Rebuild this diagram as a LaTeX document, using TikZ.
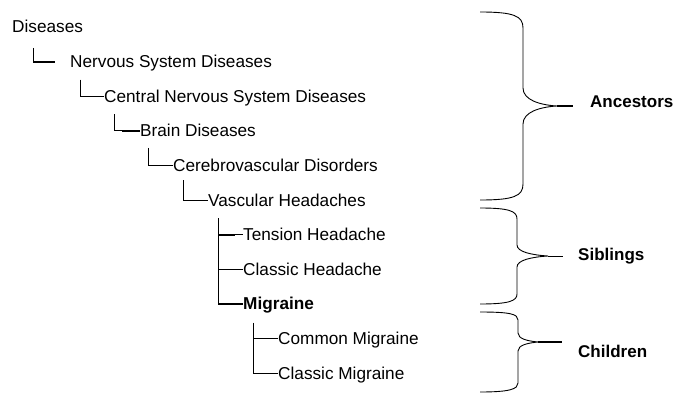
\documentclass[tikz,border=0pt]{standalone}
\usepackage{fontspec}
\setmainfont{Liberation Sans}
\usetikzlibrary{calc}

\tikzset{
    term/.style={anchor=base west, inner sep=0pt, text height=12pt, text depth=0pt,
                 font=\fontsize{17.2}{20}\selectfont},
    tag/.style={term, font=\fontsize{17}{20}\selectfont\bfseries},
    branch/.style={line width=1pt, black},
    twig/.style={line width=1.9pt, black},
    brace/.style={line width=0.9pt, black},
}

\begin{document}
\begin{tikzpicture}[x=1pt, y=-1pt]

                \useasboundingbox (0,0) rectangle (684,393);

                %----- TERMS OF THE TREE -----
                \node[term] (dis)    at (12,33)    {Diseases};
                \node[term] (nsd)    at (70,67.6)  {Nervous System Diseases};
                \node[term] (cnsd)   at (104,102.2) {Central Nervous System Diseases};
                \node[term] (brain)  at (140,136.8) {Brain Diseases};
                \node[term] (cereb)  at (173,171.4) {Cerebrovascular Disorders};
                \node[term] (vasc)   at (208,206)  {Vascular Headaches};
                \node[term] (tens)   at (243,240.6) {Tension Headache};
                \node[term] (clhead) at (243,275.2) {Classic Headache};
                \node[term, font=\fontsize{17.2}{20}\selectfont\bfseries]
                            (migr)   at (243,309.8) {Migraine};
                \node[term] (common) at (278,344.4) {Common Migraine};
                \node[term] (clmigr) at (278,379)  {Classic Migraine};

                %----- ELBOW CONNECTORS -----
                % the first one stops short of its child
                \coordinate (disroot) at ([xshift=21pt,yshift=-15pt]dis.base west);
                \draw[branch] (disroot) |- ([xshift=-15pt]nsd.west);
                \draw[twig] (nsd.west -| disroot) -- ([xshift=-15pt]nsd.west);

                \draw[branch] ([xshift=10pt,yshift=-12pt]nsd.base west) |- (cnsd.west);
                \draw[branch] ([xshift=10pt,yshift=-12pt]cnsd.base west) |- (brain.west);
                \draw[twig] ([xshift=-18pt]brain.west) -- (brain.west);
                \draw[branch] ([xshift=8pt,yshift=-11pt]brain.base west) |- (cereb.west);
                \draw[branch] ([xshift=10pt,yshift=-9pt]cereb.base west) |- (vasc.west);

                % siblings under the headaches
                \foreach \kid in {tens,clhead,migr}
                    \draw[branch] ([xshift=10pt,yshift=-12pt]vasc.base west) |- (\kid.west);
                \draw[twig] ([xshift=-25pt]tens.west) -- ([xshift=-8pt]tens.west);
                \draw[twig] ([xshift=-25pt]migr.west) -- (migr.west);

                % children of the migraine
                \foreach \kid in {common,clmigr}
                    \draw[branch] ([xshift=10pt,yshift=-13pt]migr.base west) |- (\kid.west);

                %----- GROUP LABELS -----
                \node[tag] (anc) at (590,107) {Ancestors};
                \node[tag] (sib) at (578,260) {Siblings};
                \node[tag] (chi) at (578,357) {Children};

                %----- CURLY BRACES -----
                % Ancestors
                \coordinate (tipA) at (557,106);
                \draw[brace] (480,12) .. controls (514,12) and (523,16) .. (523,28)
                    -- (523,88) .. controls (523,100) and (540,105) .. (tipA)
                    .. controls (540,107) and (523,112) .. (523,124)
                    -- (523,184) .. controls (523,196) and (514,200) .. (480,200);
                \draw[twig] (tipA) -- ([xshift=-17pt]tipA -| anc.west);

                % Siblings
                \coordinate (tipS) at (548,256);
                \draw[brace] (480,208) .. controls (509,208) and (517,211) .. (517,219)
                    -- (517,245) .. controls (517,252) and (532,255) .. (tipS)
                    .. controls (532,257) and (517,260) .. (517,267)
                    -- (517,294) .. controls (517,301) and (509,304) .. (480,304);
                \draw[branch] (tipS) -- ([xshift=-15pt]tipS -| sib.west);

                % Children
                \coordinate (tipC) at (538,342);
                \draw[brace] (480,312) .. controls (510,312) and (518,314) .. (518,320)
                    -- (518,333) .. controls (518,339) and (528,341) .. (tipC)
                    .. controls (528,343) and (518,345) .. (518,351)
                    -- (518,383) .. controls (518,389) and (510,392) .. (480,392);
                \draw[twig] (tipC) -- ([xshift=-16pt]tipC -| chi.west);

\end{tikzpicture}
\end{document}
